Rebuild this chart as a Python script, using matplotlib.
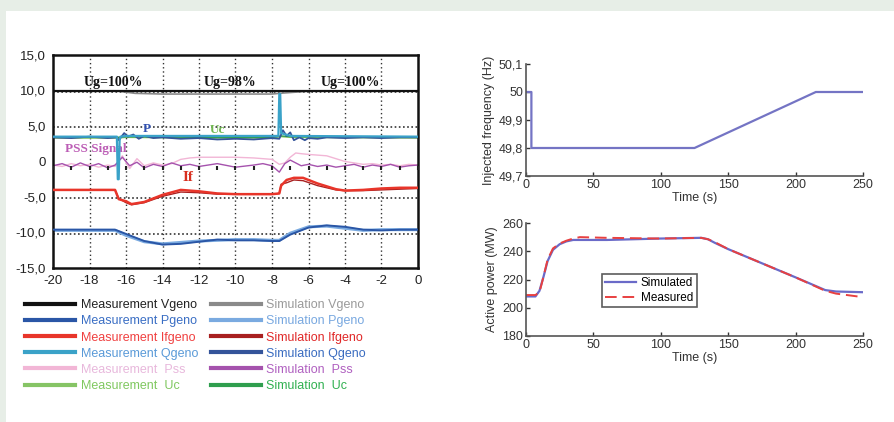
import numpy as np
import matplotlib
matplotlib.use('Agg')
import matplotlib.pyplot as plt
from matplotlib.ticker import FuncFormatter, FixedLocator

plt.rcParams['font.family'] = ['Liberation Sans Narrow', 'Liberation Sans', 'DejaVu Sans']
plt.rcParams['axes.unicode_minus'] = False

# ---------------- left panel data (time in s) ----------------
v_meas_x = [-20, 0]
v_meas_y = [9.9, 9.9]
v_sim_x = [-20, -16.4, -15.5, -14, -8, -7.6, -6, 0]
v_sim_y = [9.9, 9.9, 9.6, 9.5, 9.5, 9.6, 9.9, 9.9]

p_x = [-20, -16.6, -16, -15, -14, -13, -12, -11, -10, -9, -8, -7.6, -7, -6, -5, -4, -3, -2, -1, 0]
p_meas = [-9.6, -9.6, -10.2, -11.2, -11.7, -11.6, -11.3, -11.0, -11.1, -11.1, -11.2, -11.2,
          -10.3, -9.3, -9.0, -9.2, -9.6, -9.7, -9.6, -9.6]
p_sim = [-9.7, -9.7, -10.4, -11.3, -11.6, -11.4, -11.2, -11.1, -11.0, -11.0, -11.1, -11.1,
         -10.1, -9.2, -9.1, -9.4, -9.7, -9.6, -9.6, -9.6]

if_x = [-20, -16.6, -16.4, -16, -15.7, -15, -14, -13, -12, -11, -10, -9, -8, -7.6, -7.5,
        -7.2, -6.8, -6.3, -5.5, -4.5, -4, -3, -2, -1, 0]
if_meas = [-4.0, -4.0, -5.3, -5.6, -6.0, -5.7, -4.7, -4.0, -4.2, -4.5, -4.6, -4.6, -4.6, -4.5,
           -3.4, -2.6, -2.3, -2.3, -3.1, -3.9, -4.1, -4.0, -3.8, -3.7, -3.7]
if_sim = [-4.0, -4.0, -5.2, -5.8, -6.1, -5.8, -4.9, -4.3, -4.4, -4.6, -4.6, -4.6, -4.6, -4.5,
          -3.2, -3.0, -2.6, -2.7, -3.4, -4.0, -4.1, -4.1, -4.0, -3.9, -3.8]

q_meas_x = [-20, -16.5, -16.45, -16.4, -16.35, -16.3, -16, -8, -7.65, -7.6, -7.55, -7.5, -7, 0]
q_meas_y = [3.5, 3.5, -2.5, -2.5, 3.0, 3.5, 3.6, 3.6, 3.6, 9.5, 9.5, 4.0, 3.6, 3.5]
q_sim_x = [-20, -19, -18, -17, -16.5, -16.4, -16.1, -15.9, -15.6, -15.3, -15.0, -14.5, -14, -13,
           -12, -11, -10, -9, -8, -7.6, -7.4, -7.2, -7.0, -6.8, -6.5, -6.2, -6.0, -5.5, -5, -4,
           -3, -2, -1, 0]
q_sim_y = [3.4, 3.3, 3.5, 3.3, 3.4, 3.0, 4.0, 3.5, 3.8, 3.2, 3.6, 3.3, 3.4, 3.2, 3.3, 3.1, 3.2,
           3.1, 3.3, 3.2, 4.4, 3.6, 4.1, 3.0, 3.4, 3.0, 3.3, 3.2, 3.4, 3.3, 3.4, 3.3, 3.4, 3.4]

pss_x = [-20, -19.5, -19, -18.5, -18, -17.5, -17, -16.6, -16.2, -15.8, -15.4, -15, -14.5, -14,
         -13.5, -13, -12.5, -12, -11, -10, -9, -8.5, -8, -7.6, -7.3, -7, -6.7, -6.4, -6, -5.5,
         -5, -4.5, -4, -3.5, -3, -2.5, -2, -1.5, -1, -0.5, 0]
pss_meas = [-0.5, -0.7, -0.3, -0.6, -0.4, -0.8, -0.5, -0.7, 0.8, -1.0, 0.4, -0.6, -0.2, -0.5,
            -0.3, 0.3, 0.5, 0.6, 0.6, 0.6, 0.5, 0.4, 0.3, -0.4, -0.2, 0.6, 1.2, 1.1, 1.0, 0.9,
            0.8, 0.4, 0.0, -0.2, -0.4, -0.3, -0.5, -0.4, -0.6, -0.4, -0.5]
pss_sim = [-0.6, -0.3, -0.8, -0.2, -0.7, -0.3, -0.9, -0.5, 0.6, -0.6, -0.1, -0.9, -0.4, -0.7,
           -0.2, -0.6, -0.4, -0.7, -0.3, -0.8, -0.5, -0.3, -0.6, -1.5, -0.3, 0.2, -0.2, -0.6,
           -0.4, -0.7, -0.5, -0.8, -0.6, -0.4, -0.8, -0.5, -0.7, -0.4, -0.8, -0.6, -0.5]

uc_x = [-20, -16.5, -16, -12, -8, -7.5, -7, 0]
uc_meas = [3.3, 3.3, 3.4, 3.3, 3.3, 3.5, 3.4, 3.3]
uc_sim = [3.4, 3.4, 3.5, 3.4, 3.4, 3.6, 3.5, 3.4]

left_yticks = [15, 10, 5, 0, -5, -10, -15]
left_yticklabels = ['15,0', '10,0', '5,0', '0', '-5,0', '-10,0', '-15,0']
left_xticks = list(range(-20, 1, 2))

# ---------------- right panels data ----------------
f_t = [0, 4, 4, 125, 215, 250]
f_hz = [50.0, 50.0, 49.8, 49.8, 50.0, 50.0]

pw_t = [0, 7, 10, 13, 16, 20, 25, 30, 35, 40, 60, 100, 130, 135, 140, 150, 175, 200, 222, 230, 250]
pw_sim = [208, 208, 212, 222, 233, 241, 245, 247, 248, 248, 248, 249, 249.5, 248.5, 246, 241.5,
          231.5, 221.5, 212.5, 211.5, 211]
pw_meas = [209, 209, 211, 222, 234, 242, 245.5, 247.5, 249, 250, 249.5, 249, 249.5, 248.5, 246.5,
           241.5, 231.5, 221.5, 212, 210, 207.5]

fig = plt.figure(figsize=(8.95, 4.22), dpi=100, facecolor='#e7eee7')
fig.patches.append(plt.Rectangle((6 / 895, 0), 1, 1 - 11 / 422, transform=fig.transFigure,
                                 facecolor='white', edgecolor='none', zorder=-10))

# ---------------- left chart ----------------
ax = fig.add_axes([53 / 895, 1 - 268 / 422, 365 / 895, 213 / 422])
ax.set_xlim(-20, 0)
ax.set_ylim(-15, 15)
for xt in left_xticks[1:-1]:
    ax.axvline(xt, color='#333333', lw=1.0, ls=(0, (1, 2)), zorder=0)
for yt in [10, 5, -5, -10]:
    ax.axhline(yt - 0.2, color='#333333', lw=1.2, ls=(0, (1, 1.5)), zorder=0)

col = {
    'mv': '#111111', 'sv': '#8a8a8a',
    'mp': '#2a56a6', 'sp': '#7aaae0',
    'mi': '#e8352a', 'si': '#a82020',
    'mq': '#3aa2c8', 'sq': '#34549a',
    'mpss': '#f2b6d6', 'spss': '#a552ad',
    'muc': '#86c465', 'suc': '#2f9e4e',
}

h = {}
h['mv'], = ax.plot(v_meas_x, v_meas_y, color=col['mv'], lw=1.6, zorder=3)
h['sv'], = ax.plot(v_sim_x, v_sim_y, color=col['sv'], lw=1.2, zorder=2)
h['sp'], = ax.plot(p_x, p_sim, color=col['sp'], lw=2.2, zorder=2)
h['mp'], = ax.plot(p_x, p_meas, color=col['mp'], lw=1.4, zorder=3)
h['si'], = ax.plot(if_x, if_sim, color=col['si'], lw=1.0, zorder=2)
h['mi'], = ax.plot(if_x, if_meas, color=col['mi'], lw=1.8, zorder=3)
h['mpss'], = ax.plot(pss_x, pss_meas, color=col['mpss'], lw=1.0, zorder=2)
h['spss'], = ax.plot(pss_x, pss_sim, color=col['spss'], lw=1.0, zorder=2)
h['muc'], = ax.plot(uc_x, uc_meas, color=col['muc'], lw=1.0, zorder=2)
h['suc'], = ax.plot(uc_x, uc_sim, color=col['suc'], lw=1.0, zorder=2)
h['sq'], = ax.plot(q_sim_x, q_sim_y, color=col['sq'], lw=1.3, zorder=3)
h['mq'], = ax.plot(q_meas_x, q_meas_y, color=col['mq'], lw=1.6, zorder=4)

# small tick row of the secondary axis near zero
ax.plot(np.linspace(-20, 0, 21), np.full(21, -0.9), ls='none', marker='|', ms=3,
        mew=1.5, color='#222222', zorder=3)

serif = ['Liberation Serif', 'DejaVu Serif']
for tx, lab in [(-16.7, 'Ug=100%'), (-10.3, 'Ug=98%'), (-3.7, 'Ug=100%')]:
    ax.text(tx, 11.1, lab, ha='center', va='center', fontsize=10, fontweight='bold',
            family=serif, color='#111111')
ax.text(-14.85, 4.6, 'P', fontsize=9.5, fontweight='bold', family=serif, color='#3050b0',
        ha='center', va='center')
ax.text(-11.0, 4.5, 'Uc', fontsize=9.5, fontweight='bold', family=serif, color='#70b850',
        ha='center', va='center')
ax.text(-19.35, 1.8, 'PSS Signal', fontsize=9.5, fontweight='bold', family=serif,
        color='#b040a8', ha='left', va='center', alpha=0.85)
ax.text(-12.6, -2.3, 'If', fontsize=11, fontweight='bold', family=serif, color='#d83020',
        ha='center', va='center')

ax.set_xticks(left_xticks)
ax.set_yticks(left_yticks)
ax.set_yticklabels(left_yticklabels)
ax.tick_params(direction='in', length=0, labelsize=9.5, colors='#222222', pad=5)
for s in ax.spines.values():
    s.set_linewidth(1.8)
    s.set_color('#111111')

meas_keys = ['mv', 'mp', 'mi', 'mq', 'mpss', 'muc']
sim_keys = ['sv', 'sp', 'si', 'sq', 'spss', 'suc']
labels = {
    'mv': 'Measurement Vgeno', 'mp': 'Measurement Pgeno', 'mi': 'Measurement Ifgeno',
    'mq': 'Measurement Qgeno', 'mpss': 'Measurement  Pss', 'muc': 'Measurement  Uc',
    'sv': 'Simulation Vgeno', 'sp': 'Simulation Pgeno', 'si': 'Simulation Ifgeno',
    'sq': 'Simulation Qgeno', 'spss': 'Simulation  Pss', 'suc': 'Simulation  Uc',
}
text_col = {
    'mv': '#222222', 'mp': '#3a6ec4', 'mi': '#f04040', 'mq': '#5a9ad8', 'mpss': '#e8b8dc',
    'muc': '#80c860', 'sv': '#9a9a9a', 'sp': '#78a8e0', 'si': '#e02828', 'sq': '#3a6cc0',
    'spss': '#b060c0', 'suc': '#30b050',
}
keys = meas_keys + sim_keys
leg_handles = [plt.Line2D([], [], color=col[k], lw=3) for k in keys]
leg = fig.legend(leg_handles, [labels[k] for k in keys], ncol=2, frameon=False,
                 loc='upper left', bbox_to_anchor=(14 / 895, 1 - 288 / 422),
                 fontsize=9, handlelength=4.0, handletextpad=0.45, columnspacing=1.0,
                 labelspacing=0.33, labelcolor=[text_col[k] for k in keys])


def comma(v, pos):
    s = ('%.1f' % v).rstrip('0').rstrip('.')
    return s.replace('.', ',')


def style_right(a):
    for side in ['top', 'right']:
        a.spines[side].set_visible(False)
    for side in ['left', 'bottom']:
        a.spines[side].set_color('#555555')
        a.spines[side].set_linewidth(1.2)
    a.tick_params(direction='in', length=3, width=1, colors='#333333', labelsize=9, pad=2)
    a.set_xlim(0, 250)
    a.set_xticks([0, 50, 100, 150, 200, 250])
    a.set_xlabel('Time (s)', fontsize=9, color='#333333', labelpad=1)


# ---------------- right top: frequency ----------------
ax2 = fig.add_axes([526 / 895, 1 - 176 / 422, 337 / 895, 112 / 422])
ax2.plot(f_t, f_hz, color='#7474c4', lw=1.6)
ax2.set_ylim(49.7, 50.1)
ax2.yaxis.set_major_locator(FixedLocator([49.7, 49.8, 49.9, 50.0, 50.1]))
ax2.yaxis.set_major_formatter(FuncFormatter(comma))
ax2.set_ylabel('Injected frequency (Hz)', fontsize=9, color='#333333', labelpad=3)
style_right(ax2)

# ---------------- right bottom: active power ----------------
ax3 = fig.add_axes([526 / 895, 1 - 336 / 422, 337 / 895, 113 / 422])
ax3.plot(pw_t, pw_sim, color='#6a6ac8', lw=1.6, label='Simulated')
ax3.plot(pw_t, pw_meas, color='#e84040', lw=1.4, ls=(0, (6, 3)), label='Measured')
ax3.set_ylim(180, 260)
ax3.set_yticks([180, 200, 220, 240, 260])
ax3.set_ylabel('Active power (MW)', fontsize=9, color='#333333', labelpad=3)
style_right(ax3)
lg = ax3.legend(loc='upper left', bbox_to_anchor=(0.225, 0.55), fontsize=8.5, frameon=True,
                fancybox=False, edgecolor='#333333', handlelength=2.6, borderpad=0.3,
                labelspacing=0.2, handletextpad=0.4, borderaxespad=0)
lg.get_frame().set_linewidth(1.2)

fig.savefig('out.png', dpi=100, facecolor=fig.get_facecolor())
